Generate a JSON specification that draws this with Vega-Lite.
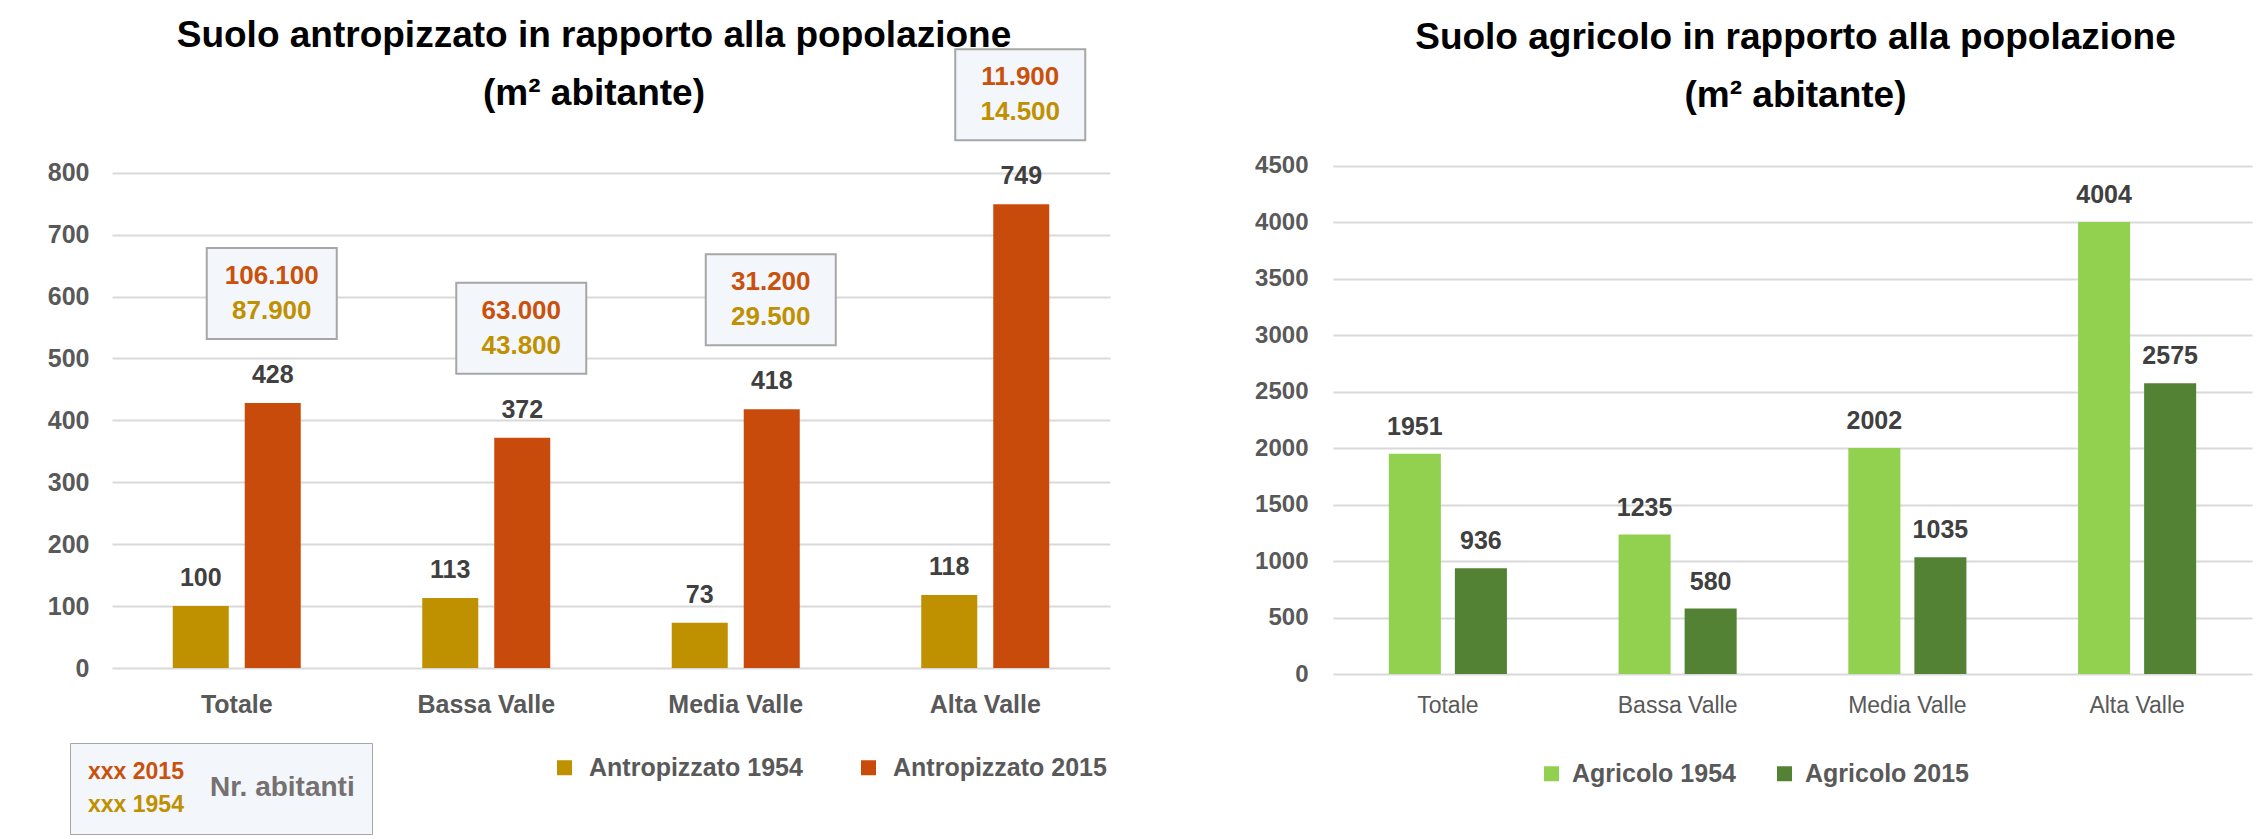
{
  "$schema": "https://vega.github.io/schema/vega-lite/v6.json",
  "background": "white",
  "padding": {"left": 47, "top": 5, "right": 5, "bottom": 5},
  "spacing": 144,
  "resolve": {"scale": {"color": "independent", "xOffset": "independent"}, "legend": {"color": "independent"}},
  "config": {
    "font": "Liberation Sans",
    "view": {"stroke": null},
    "locale": {"number": {"decimal": ",", "thousands": ".", "grouping": [3], "currency": ["€", ""]}},
    "axis": {"labelFont": "Liberation Sans", "labelFontWeight": "bold", "labelColor": "#595959", "labelFontSize": 25, "ticks": false, "domain": false, "title": null},
    "legend": {"labelFont": "Liberation Sans", "titleFont": "Liberation Sans", "labelLimit": 400}
  },
  "hconcat": [
    {
      "width": 998,
      "height": 663,
      "title": {
        "text": "Suolo antropizzato in rapporto alla popolazione",
        "subtitle": "(m² abitante)",
        "font": "Liberation Sans", "subtitleFont": "Liberation Sans",
        "fontSize": 37, "subtitleFontSize": 37,
        "fontWeight": "bold", "subtitleFontWeight": "bold",
        "color": "#000000", "subtitleColor": "#000000",
        "offset": -108, "subtitlePadding": 21, "frame": "group", "anchor": "middle", "dx": -17
      },
      "data": {"values": [
        {"zona": "Totale", "Antropizzato 1954": 100, "Antropizzato 2015": 428, "ab2015": 106100, "ab1954": 87900},
        {"zona": "Bassa Valle", "Antropizzato 1954": 113, "Antropizzato 2015": 372, "ab2015": 63000, "ab1954": 43800},
        {"zona": "Media Valle", "Antropizzato 1954": 73, "Antropizzato 2015": 418, "ab2015": 31200, "ab1954": 29500},
        {"zona": "Alta Valle", "Antropizzato 1954": 118, "Antropizzato 2015": 749, "ab2015": 11900, "ab1954": 14500}
      ]},
      "layer": [
        {
          "transform": [{"fold": ["Antropizzato 1954", "Antropizzato 2015"], "as": ["serie", "valore"]}],
          "layer": [
            {
              "mark": {"type": "bar"},
              "encoding": {
                "x": {"field": "zona", "type": "nominal", "scale": {"domain": ["Totale", "Bassa Valle", "Media Valle", "Alta Valle"], "paddingInner": 0.487, "paddingOuter": 0.2435}, "axis": {"labelAngle": 0, "labelPadding": 24, "grid": false, "labelFontSize": 25}},
                "y": {"field": "valore", "type": "quantitative", "scale": {"domain": [0, 1071], "nice": false}, "axis": {"values": [0, 100, 200, 300, 400, 500, 600, 700, 800], "grid": true, "gridColor": "#D9D9D9", "gridWidth": 2, "labelPadding": 23}},
                "xOffset": {"field": "serie", "type": "nominal", "scale": {"domain": ["Antropizzato 1954", "Antropizzato 2015"], "paddingInner": 0.222, "paddingOuter": 0}},
                "color": {
                  "field": "serie", "type": "nominal",
                  "scale": {"domain": ["Antropizzato 1954", "Antropizzato 2015"], "range": ["#BF9000", "#C94B0C"]},
                  "legend": {"orient": "none", "legendX": 440, "legendY": 750, "direction": "horizontal", "title": null, "symbolType": "square", "symbolSize": 225, "labelFontSize": 25, "labelFontWeight": "bold", "labelColor": "#595959", "labelOffset": 12, "columnPadding": 53, "padding": 0, "labelLimit": 400}
                }
              }
            },
            {
              "mark": {"type": "text", "baseline": "alphabetic", "dy": -20, "fontSize": 25, "fontWeight": "bold", "fill": "#404040"},
              "encoding": {
                "x": {"field": "zona", "type": "nominal"},
                "xOffset": {"field": "serie", "type": "nominal"},
                "y": {"field": "valore", "type": "quantitative"},
                "text": {"field": "valore", "type": "quantitative"}
              }
            }
          ]
        },
        {
          "layer": [
            {
              "mark": {"type": "bar", "width": 130, "xOffset": 35, "yOffset": -64, "y2Offset": -155, "fill": "#F3F6FA", "stroke": "#A6A6A6", "strokeWidth": 2},
              "encoding": {
                "x": {"field": "zona", "type": "nominal"},
                "y": {"field": "Antropizzato 2015", "type": "quantitative"},
                "y2": {"field": "Antropizzato 2015"}
              }
            },
            {
              "mark": {"type": "text", "baseline": "middle", "dx": 35, "dy": -127, "fontSize": 26, "fontWeight": "bold"},
              "encoding": {
                "x": {"field": "zona", "type": "nominal"},
                "y": {"field": "Antropizzato 2015", "type": "quantitative"},
                "text": {"field": "ab2015", "type": "quantitative", "format": ",d"},
                "color": {
                  "datum": "xxx 2015", "type": "nominal",
                  "scale": {"domain": ["xxx 2015", "xxx 1954"], "range": ["#C9510C", "#BF9000"]},
                  "legend": {
                    "orient": "none", "legendX": -42, "legendY": 738, "direction": "vertical",
                    "title": "Nr. abitanti", "titleOrient": "right", "titleFontSize": 28, "titleFontWeight": "bold", "titleColor": "#767171", "titlePadding": 26,
                    "labelFontSize": 23, "labelFontWeight": "bold", "labelOffset": -22,
                    "symbolOpacity": 0, "symbolSize": 1, "symbolStrokeWidth": 0,
                    "rowPadding": 9, "padding": 17,
                    "fillColor": "#F3F6FA", "strokeColor": "#A6A6A6",
                    "encode": {"labels": {"update": {"fill": {"signal": "datum.value === 'xxx 2015' ? '#C9510C' : '#BF9000'"}}}}
                  }
                }
              }
            },
            {
              "mark": {"type": "text", "baseline": "middle", "dx": 35, "dy": -92, "fontSize": 26, "fontWeight": "bold"},
              "encoding": {
                "x": {"field": "zona", "type": "nominal"},
                "y": {"field": "Antropizzato 2015", "type": "quantitative"},
                "text": {"field": "ab1954", "type": "quantitative", "format": ",d"},
                "color": {"datum": "xxx 1954", "type": "nominal"}
              }
            }
          ]
        }
      ],
      "resolve": {"scale": {"color": "independent"}, "legend": {"color": "independent"}}
    },
    {
      "width": 919,
      "height": 669,
      "title": {
        "text": "Suolo agricolo in rapporto alla popolazione",
        "subtitle": "(m² abitante)",
        "font": "Liberation Sans", "subtitleFont": "Liberation Sans",
        "fontSize": 37, "subtitleFontSize": 37,
        "fontWeight": "bold", "subtitleFontWeight": "bold",
        "color": "#000000", "subtitleColor": "#000000",
        "offset": -110, "subtitlePadding": 21, "frame": "group", "anchor": "middle", "dx": 3
      },
      "data": {"values": [
        {"zona": "Totale", "Agricolo 1954": 1951, "Agricolo 2015": 936},
        {"zona": "Bassa Valle", "Agricolo 1954": 1235, "Agricolo 2015": 580},
        {"zona": "Media Valle", "Agricolo 1954": 2002, "Agricolo 2015": 1035},
        {"zona": "Alta Valle", "Agricolo 1954": 4004, "Agricolo 2015": 2575}
      ]},
      "transform": [{"fold": ["Agricolo 1954", "Agricolo 2015"], "as": ["serie", "valore"]}],
      "layer": [
        {
          "mark": {"type": "bar"},
          "encoding": {
            "x": {"field": "zona", "type": "nominal", "scale": {"domain": ["Totale", "Bassa Valle", "Media Valle", "Alta Valle"], "paddingInner": 0.486, "paddingOuter": 0.243}, "axis": {"labelAngle": 0, "labelPadding": 20, "grid": false, "labelFontSize": 23, "labelFontWeight": "normal"}},
            "y": {"field": "valore", "type": "quantitative", "scale": {"domain": [0, 5926], "nice": false}, "axis": {"values": [0, 500, 1000, 1500, 2000, 2500, 3000, 3500, 4000, 4500], "format": "d", "grid": true, "gridColor": "#D9D9D9", "gridWidth": 2, "labelPadding": 25, "labelFontSize": 24}},
            "xOffset": {"field": "serie", "type": "nominal", "scale": {"domain": ["Agricolo 1954", "Agricolo 2015"], "paddingInner": 0.212, "paddingOuter": 0}},
            "color": {
              "field": "serie", "type": "nominal",
              "scale": {"domain": ["Agricolo 1954", "Agricolo 2015"], "range": ["#92D050", "#548235"]},
              "legend": {"orient": "none", "legendX": 206, "legendY": 756, "direction": "horizontal", "title": null, "symbolType": "square", "symbolSize": 225, "labelFontSize": 25, "labelFontWeight": "bold", "labelColor": "#595959", "labelOffset": 8, "columnPadding": 36, "padding": 0, "labelLimit": 400}
            }
          }
        },
        {
          "mark": {"type": "text", "baseline": "alphabetic", "dy": -19, "fontSize": 25, "fontWeight": "bold", "fill": "#404040"},
          "encoding": {
            "x": {"field": "zona", "type": "nominal"},
            "xOffset": {"field": "serie", "type": "nominal"},
            "y": {"field": "valore", "type": "quantitative"},
            "text": {"field": "valore", "type": "quantitative", "format": "d"}
          }
        }
      ]
    }
  ]
}
